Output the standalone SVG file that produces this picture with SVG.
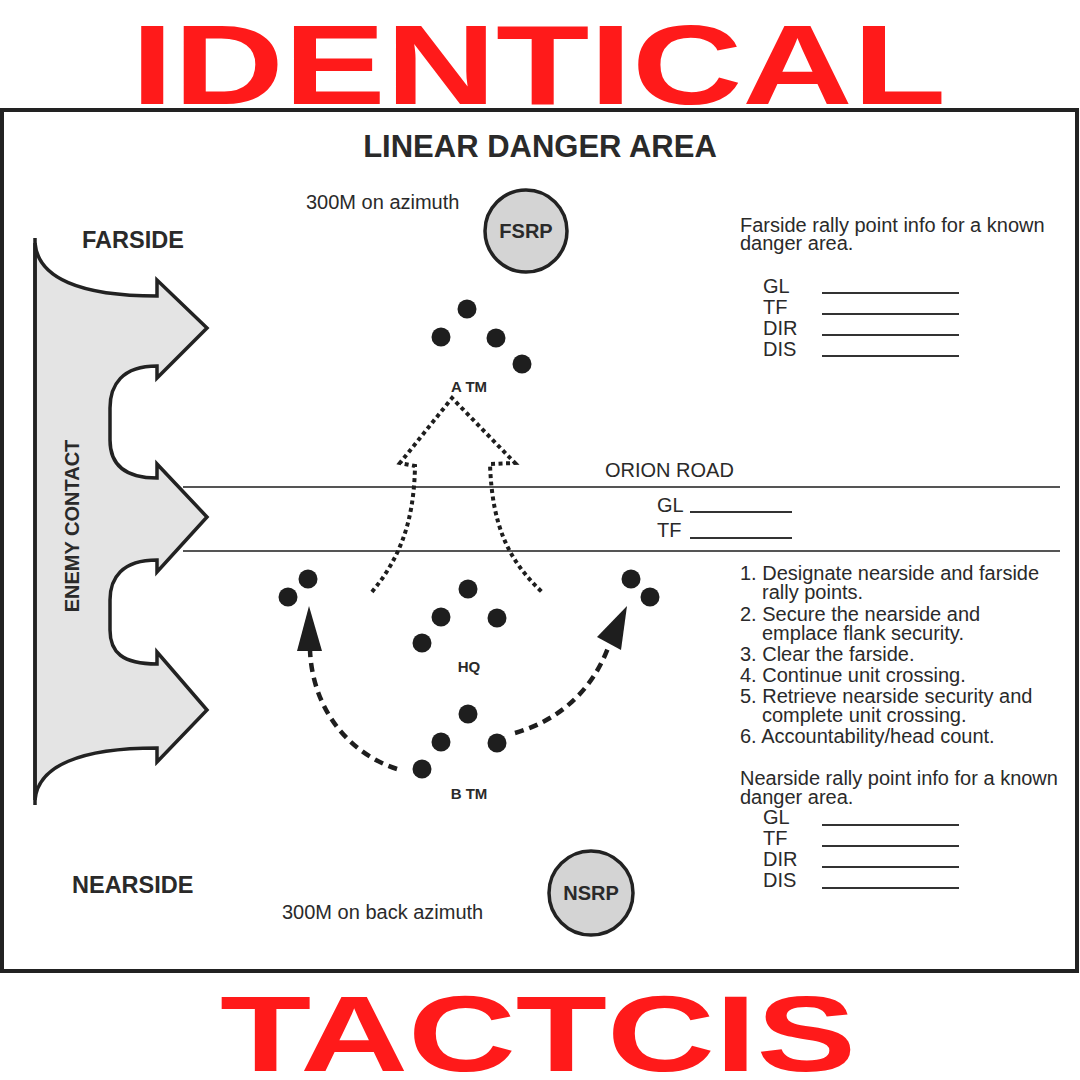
<svg xmlns="http://www.w3.org/2000/svg" width="1080" height="1080" viewBox="0 0 1080 1080">
<style>
.t{font-family:"Liberation Sans",Arial,sans-serif;fill:#2a2a2a;font-size:20px}
.b{font-weight:bold}
.red{font-family:"Liberation Sans",Arial,sans-serif;font-weight:bold;fill:#ff1a1a}
.dot{fill:#1e1e1e}
.rp{fill:#d4d4d4;stroke:#222;stroke-width:3.5}
.ul{stroke:#333;stroke-width:2}
.road{stroke:#555;stroke-width:2}
.dotted{fill:none;stroke:#1e1e1e;stroke-width:4;stroke-dasharray:4 3.5}
.dashed{fill:none;stroke:#1e1e1e;stroke-width:4.5;stroke-dasharray:9 6}
.head{fill:#1e1e1e}
.lbl{font-size:15px}
</style>
<rect width="1080" height="1080" fill="#fff"/>
<text class="red" x="131" y="104" font-size="114" textLength="815" lengthAdjust="spacingAndGlyphs">IDENTICAL</text>
<rect x="2" y="110" width="1075" height="861" fill="#fff" stroke="#222" stroke-width="4"/>
<text class="red" x="220" y="1071" font-size="108" textLength="636" lengthAdjust="spacingAndGlyphs">TACTCIS</text>

<text class="t b" x="540" y="157" font-size="31" text-anchor="middle" style="font-size:31px">LINEAR DANGER AREA</text>
<text class="t b" x="82" y="248" style="font-size:23.5px">FARSIDE</text>
<text class="t b" x="72" y="893" style="font-size:23.5px">NEARSIDE</text>
<text class="t" x="306" y="209">300M on azimuth</text>
<text class="t" x="282" y="919">300M on back azimuth</text>

<g id="enemy-contact">
<path d="M35,243 C38,278 80,296 157,296 L157,280 L207,328 L157,378 L157,366 C122,366 110,385 110,408 L110,440 C110,462 122,478 157,478 L157,464 L207,517 L157,572 L157,560 C122,560 110,578 110,600 L110,630 C110,652 122,664 157,664 L157,652 L207,710 L157,762 L157,748 C80,748 38,766 35,800 Z" fill="#e4e4e4" stroke="#222" stroke-width="3.5" stroke-linejoin="miter"/>
<line x1="35" y1="238" x2="35" y2="805" stroke="#222" stroke-width="3.5"/>
<text class="t b" x="0" y="0" text-anchor="middle" transform="translate(79,526) rotate(-90)">ENEMY CONTACT</text>
</g>

<g id="orion-road">
<line class="road" x1="183" y1="487" x2="1060" y2="487"/>
<line class="road" x1="183" y1="551" x2="1060" y2="551"/>
<text class="t" x="605" y="477">ORION ROAD</text>
<text class="t" x="657" y="512">GL</text>
<line class="ul" x1="690" y1="512" x2="792" y2="512"/>
<text class="t" x="657" y="537">TF</text>
<line class="ul" x1="690" y1="538" x2="792" y2="538"/>
</g>

<g id="fsrp">
<circle class="rp" cx="526" cy="231" r="41"/>
<text class="t b" x="526" y="238" text-anchor="middle">FSRP</text>
</g>
<g id="nsrp">
<circle class="rp" cx="591" cy="893" r="42"/>
<text class="t b" x="591" y="900" text-anchor="middle">NSRP</text>
</g>

<g id="a-tm">
<circle class="dot" cx="467" cy="309" r="9.5"/>
<circle class="dot" cx="441" cy="337" r="9.5"/>
<circle class="dot" cx="496" cy="338" r="9.5"/>
<circle class="dot" cx="522" cy="364" r="9.5"/>
<text class="t b lbl" x="469" y="392" text-anchor="middle">A TM</text>
</g>
<g id="hq">
<circle class="dot" cx="468" cy="589" r="9.5"/>
<circle class="dot" cx="441" cy="617" r="9.5"/>
<circle class="dot" cx="497" cy="618" r="9.5"/>
<circle class="dot" cx="422" cy="643" r="9.5"/>
<text class="t b lbl" x="469" y="672" text-anchor="middle">HQ</text>
</g>
<g id="b-tm">
<circle class="dot" cx="468" cy="714" r="9.5"/>
<circle class="dot" cx="441" cy="742" r="9.5"/>
<circle class="dot" cx="497" cy="743" r="9.5"/>
<circle class="dot" cx="422" cy="769" r="9.5"/>
<text class="t b lbl" x="469" y="799" text-anchor="middle">B TM</text>
</g>
<g id="left-security">
<circle class="dot" cx="288" cy="597" r="9.5"/>
<circle class="dot" cx="308" cy="579" r="9.5"/>
</g>
<g id="right-security">
<circle class="dot" cx="631" cy="579" r="9.5"/>
<circle class="dot" cx="650" cy="597" r="9.5"/>
</g>

<g id="connectors">
<path class="dotted" d="M372,592 C398,560 414,525 415,466 L400,463 L452,398 L515,463 L490,464 C492,525 508,560 542,592"/>
<path class="dashed" d="M397,769 C345,752 312,705 310,650"/>
<polygon class="head" points="309,606 297,651 322,651"/>
<path class="dashed" d="M515,733 C560,720 592,690 608,648"/>
<polygon class="head" points="627,606 597,637 621,650"/>
</g>

<g id="farside-info">
<text class="t" x="740" y="232">Farside rally point info for a known</text>
<text class="t" x="740" y="250">danger area.</text>
<text class="t" x="763" y="293">GL</text>
<text class="t" x="763" y="314">TF</text>
<text class="t" x="763" y="335">DIR</text>
<text class="t" x="763" y="356">DIS</text>
<line class="ul" x1="822" y1="293" x2="959" y2="293"/>
<line class="ul" x1="822" y1="314" x2="959" y2="314"/>
<line class="ul" x1="822" y1="335" x2="959" y2="335"/>
<line class="ul" x1="822" y1="356" x2="959" y2="356"/>
</g>

<g id="steps">
<text class="t" x="740" y="580">1. Designate nearside and farside</text>
<text class="t" x="762" y="599">rally points.</text>
<text class="t" x="740" y="621">2. Secure the nearside and</text>
<text class="t" x="762" y="640">emplace flank security.</text>
<text class="t" x="740" y="661">3. Clear the farside.</text>
<text class="t" x="740" y="682">4. Continue unit crossing.</text>
<text class="t" x="740" y="703">5. Retrieve nearside security and</text>
<text class="t" x="762" y="722">complete unit crossing.</text>
<text class="t" x="740" y="743">6. Accountability/head count.</text>
</g>

<g id="nearside-info">
<text class="t" x="740" y="785">Nearside rally point info for a known</text>
<text class="t" x="740" y="804">danger area.</text>
<text class="t" x="763" y="824">GL</text>
<text class="t" x="763" y="845">TF</text>
<text class="t" x="763" y="866">DIR</text>
<text class="t" x="763" y="887">DIS</text>
<line class="ul" x1="822" y1="825" x2="959" y2="825"/>
<line class="ul" x1="822" y1="846" x2="959" y2="846"/>
<line class="ul" x1="822" y1="867" x2="959" y2="867"/>
<line class="ul" x1="822" y1="888" x2="959" y2="888"/>
</g>
</svg>
